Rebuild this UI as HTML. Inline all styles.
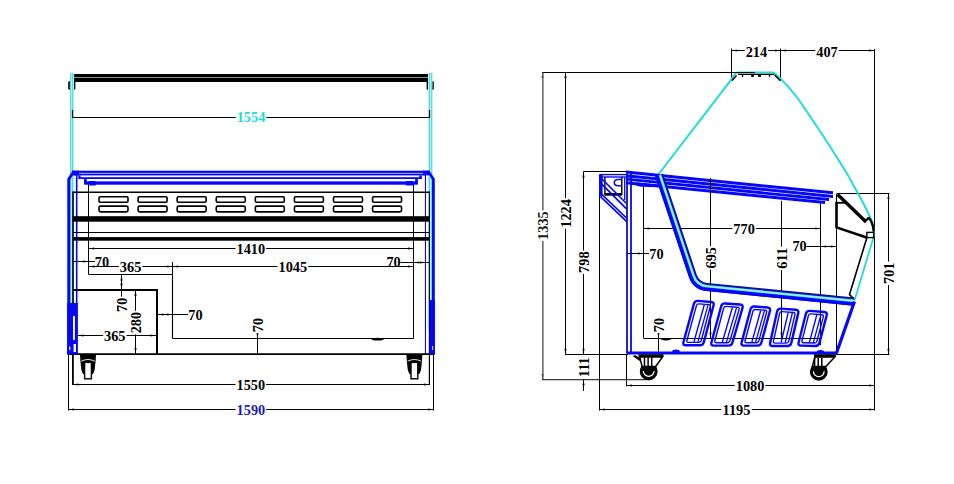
<!DOCTYPE html>
<html><head><meta charset="utf-8"><title>Cabinet drawing</title>
<style>
html,body{margin:0;padding:0;background:#fff;}
svg{display:block;}
text{font-family:"Liberation Serif",serif;}
</style></head>
<body>
<svg width="954" height="484" viewBox="0 0 954 484">
<rect x="0" y="0" width="954" height="484" fill="#fff"/>
<rect x="72" y="74" width="358" height="8" fill="#000" />
<line x1="73" y1="77.5" x2="429" y2="77.5" stroke="#9a9a9a" stroke-width="0.9" />
<rect x="68.2" y="81.2" width="7.2" height="8.6" rx="1.2" fill="#000"/>
<rect x="69.8" y="83.3" width="4.0" height="1.7" fill="#ddd" />
<rect x="69.8" y="86.3" width="4.0" height="1.7" fill="#ddd" />
<rect x="426.6" y="81.2" width="7.2" height="8.6" rx="1.2" fill="#000"/>
<rect x="428.20000000000005" y="83.3" width="4.0" height="1.7" fill="#ddd" />
<rect x="428.20000000000005" y="86.3" width="4.0" height="1.7" fill="#ddd" />
<rect x="69.9" y="73" width="4.2" height="230" fill="#b2f4f6" />
<rect x="70.1" y="73" width="1.0" height="230" fill="#58d2d6" />
<rect x="72.1" y="73" width="1.0" height="230" fill="#58d2d6" />
<rect x="428.0" y="73" width="4.4" height="257" fill="#b2f4f6" />
<rect x="429.0" y="73" width="1.0" height="257" fill="#58d2d6" />
<rect x="431.2" y="73" width="1.0" height="257" fill="#58d2d6" />
<line x1="72.5" y1="117.5" x2="430" y2="117.5" stroke="#000" stroke-width="1.0" />
<line x1="72.5" y1="110" x2="72.5" y2="118" stroke="#000" stroke-width="1.2" />
<line x1="429.5" y1="110" x2="429.5" y2="118" stroke="#000" stroke-width="1.2" />
<rect x="235.7" y="111.48100000000001" width="30.6" height="11.438" fill="#fff" />
<text x="251" y="122.32" fill="#22dcd8" font-size="14.3" font-weight="bold" text-anchor="middle">1554</text>
<rect x="72.2" y="170.7" width="357.5" height="2.2" fill="#0606f8" />
<rect x="73.9" y="173.6" width="351.9" height="1.8" fill="#0606f8" />
<rect x="72.2" y="170.7" width="6.8" height="4.7" fill="#0606f8" />
<rect x="423.0" y="170.7" width="6.7" height="4.7" fill="#0606f8" />
<rect x="75.9" y="175" width="1.6" height="179.2" fill="#0606f8" />
<rect x="424.9" y="175" width="1.1" height="179.2" fill="#1010a8" />
<rect x="78.4" y="175.4" width="2.1" height="3.5" fill="#0606f8" />
<rect x="419.3" y="175.4" width="2.5" height="3.5" fill="#0606f8" />
<rect x="78.4" y="177.2" width="343.4" height="1.8" fill="#0606f8" />
<rect x="84.0" y="178.9" width="2.8" height="4.9" fill="#0606f8" />
<rect x="415.1" y="178.9" width="2.7" height="4.9" fill="#0606f8" />
<rect x="84.3" y="181.4" width="333.5" height="3.3" fill="#0606f8" />
<rect x="88.3" y="181.0" width="7.9" height="4.6" rx="1.5" fill="#0606f8"/>
<rect x="405.4" y="181.0" width="8.5" height="4.6" rx="1.5" fill="#0606f8"/>
<path d="M72.6,170.8 L74.6,172.2 L70.2,179.8 L70.2,354.2 L67.3,354.2 L67.3,178.8 Z" fill="#0606f8"/>
<path d="M429.4,170.8 L427.8,172.4 L432.0,179.8 L432.0,354.2 L434.8,354.2 L434.8,178.8 Z" fill="#0606f8"/>
<line x1="73.0" y1="192.3" x2="429.3" y2="192.3" stroke="#000" stroke-width="1.5" />
<line x1="73.0" y1="191.5" x2="73.0" y2="385" stroke="#000" stroke-width="1.6" />
<line x1="429.4" y1="191.5" x2="429.4" y2="385" stroke="#000" stroke-width="1.2" />
<rect x="73" y="216.2" width="356.5" height="5.5" fill="#000" />
<line x1="73" y1="232.5" x2="429.3" y2="232.5" stroke="#000" stroke-width="1.0" />
<rect x="73" y="237.1" width="356.5" height="3.6" fill="#000" />
<line x1="88.5" y1="185" x2="88.5" y2="274.5" stroke="#000" stroke-width="1.0" />
<line x1="413.5" y1="185" x2="413.5" y2="338.5" stroke="#000" stroke-width="1.0" />
<line x1="88.8" y1="274.5" x2="172.5" y2="274.5" stroke="#000" stroke-width="1.0" />
<line x1="172.5" y1="262" x2="172.5" y2="338.5" stroke="#000" stroke-width="1.1" />
<line x1="172.5" y1="338.5" x2="413.6" y2="338.5" stroke="#000" stroke-width="1.1" />
<ellipse cx="377.6" cy="339.2" rx="6.2" ry="1.4" fill="#000"/>
<rect x="99.0" y="196.7" width="29.0" height="5.6" rx="1.2" ry="1.2" fill="none" stroke="#000" stroke-width="1.6"/>
<rect x="99.0" y="206.1" width="29.0" height="5.8" rx="1.6" ry="1.6" fill="none" stroke="#000" stroke-width="1.6"/>
<rect x="138.07999999999998" y="196.7" width="29.0" height="5.6" rx="1.2" ry="1.2" fill="none" stroke="#000" stroke-width="1.6"/>
<rect x="138.07999999999998" y="206.1" width="29.0" height="5.8" rx="1.6" ry="1.6" fill="none" stroke="#000" stroke-width="1.6"/>
<rect x="177.15999999999997" y="196.7" width="29.0" height="5.6" rx="1.2" ry="1.2" fill="none" stroke="#000" stroke-width="1.6"/>
<rect x="177.15999999999997" y="206.1" width="29.0" height="5.8" rx="1.6" ry="1.6" fill="none" stroke="#000" stroke-width="1.6"/>
<rect x="216.23999999999998" y="196.7" width="29.0" height="5.6" rx="1.2" ry="1.2" fill="none" stroke="#000" stroke-width="1.6"/>
<rect x="216.23999999999998" y="206.1" width="29.0" height="5.8" rx="1.6" ry="1.6" fill="none" stroke="#000" stroke-width="1.6"/>
<rect x="255.32" y="196.7" width="29.0" height="5.6" rx="1.2" ry="1.2" fill="none" stroke="#000" stroke-width="1.6"/>
<rect x="255.32" y="206.1" width="29.0" height="5.8" rx="1.6" ry="1.6" fill="none" stroke="#000" stroke-width="1.6"/>
<rect x="294.4" y="196.7" width="29.0" height="5.6" rx="1.2" ry="1.2" fill="none" stroke="#000" stroke-width="1.6"/>
<rect x="294.4" y="206.1" width="29.0" height="5.8" rx="1.6" ry="1.6" fill="none" stroke="#000" stroke-width="1.6"/>
<rect x="333.47999999999996" y="196.7" width="29.0" height="5.6" rx="1.2" ry="1.2" fill="none" stroke="#000" stroke-width="1.6"/>
<rect x="333.47999999999996" y="206.1" width="29.0" height="5.8" rx="1.6" ry="1.6" fill="none" stroke="#000" stroke-width="1.6"/>
<rect x="372.56" y="196.7" width="29.0" height="5.6" rx="1.2" ry="1.2" fill="none" stroke="#000" stroke-width="1.6"/>
<rect x="372.56" y="206.1" width="29.0" height="5.8" rx="1.6" ry="1.6" fill="none" stroke="#000" stroke-width="1.6"/>
<polyline points="73,290 157,290 157,354" stroke="#000" stroke-width="2.0" fill="none" />
<line x1="67.5" y1="354.2" x2="434.5" y2="354.2" stroke="#000" stroke-width="1.8" />
<rect x="67.2" y="303" width="10.6" height="51.2" fill="#0606f8" />
<rect x="73.0" y="316" width="1.9" height="24" fill="#fff" />
<rect x="73.6" y="344" width="2.4" height="8" fill="#fff" />
<rect x="69.0" y="346.5" width="1.5" height="3.5" fill="#ccd" />
<rect x="429.4" y="300" width="5.4" height="54.2" fill="#0606f8" />
<rect x="432.0" y="346" width="1.2" height="4" fill="#ccf" />
<path d="M80.0,354.6 L96.0,354.6 L95.6,361 L94.6,370 L93.0,374 L83.0,374 L81.4,370 L80.4,361 Z" fill="#000"/>
<path d="M81.2,361.2 Q88.0,357.8 94.8,361.2" fill="none" stroke="#fff" stroke-width="0.9"/>
<rect x="84.6" y="362.4" width="6.8" height="16.4" fill="#fff" stroke="#000" stroke-width="1.4"/>
<path d="M406.4,354.6 L422.4,354.6 L422.0,361 L421.0,370 L419.4,374 L409.4,374 L407.79999999999995,370 L406.79999999999995,361 Z" fill="#000"/>
<path d="M407.59999999999997,361.2 Q414.4,357.8 421.2,361.2" fill="none" stroke="#fff" stroke-width="0.9"/>
<rect x="411.0" y="362.4" width="6.8" height="16.4" fill="#fff" stroke="#000" stroke-width="1.4"/>
<line x1="88.8" y1="248.5" x2="413.6" y2="248.5" stroke="#000" stroke-width="1.0" />
<polygon points="88.80,248.50 94.30,247.40 94.30,249.60" fill="#000"/>
<polygon points="413.60,248.50 408.10,247.40 408.10,249.60" fill="#000"/>
<rect x="235.5" y="242.781" width="30.6" height="11.438" fill="#fff" />
<text x="250.8" y="253.62" fill="#000" font-size="14.3" font-weight="bold" text-anchor="middle">1410</text>
<line x1="73" y1="261.5" x2="95" y2="261.5" stroke="#000" stroke-width="1.0" />
<polygon points="88.80,261.50 83.30,260.40 83.30,262.60" fill="#000"/>
<text x="102" y="266.82" fill="#000" font-size="14.3" font-weight="bold" text-anchor="middle">70</text>
<line x1="88.8" y1="266.5" x2="172.5" y2="266.5" stroke="#000" stroke-width="1.0" />
<polygon points="88.80,266.50 94.30,265.40 94.30,267.60" fill="#000"/>
<polygon points="172.50,266.50 167.00,265.40 167.00,267.60" fill="#000"/>
<rect x="118.875" y="261.481" width="23.450000000000003" height="11.438" fill="#fff" />
<text x="130.6" y="272.32" fill="#000" font-size="14.3" font-weight="bold" text-anchor="middle">365</text>
<line x1="172.5" y1="266.5" x2="413.6" y2="266.5" stroke="#000" stroke-width="1.0" />
<polygon points="172.50,266.50 178.00,265.40 178.00,267.60" fill="#000"/>
<polygon points="413.60,266.50 408.10,265.40 408.10,267.60" fill="#000"/>
<rect x="277.5" y="261.281" width="30.6" height="11.438" fill="#fff" />
<text x="292.8" y="272.12" fill="#000" font-size="14.3" font-weight="bold" text-anchor="middle">1045</text>
<line x1="400.5" y1="262.5" x2="429.4" y2="262.5" stroke="#000" stroke-width="1.0" />
<polygon points="413.60,262.50 419.10,261.40 419.10,263.60" fill="#000"/>
<polygon points="425.40,262.50 419.90,261.40 419.90,263.60" fill="#000"/>
<text x="393.6" y="266.82" fill="#000" font-size="14.3" font-weight="bold" text-anchor="middle">70</text>
<line x1="121.5" y1="274.3" x2="121.5" y2="297" stroke="#000" stroke-width="1.0" />
<polygon points="121.50,289.00 120.40,283.50 122.60,283.50" fill="#000"/>
<polygon points="121.50,275.30 120.40,280.80 122.60,280.80" fill="#000"/>
<rect x="116.18100000000001" y="296.65000000000003" width="11.438" height="16.3" fill="#fff" />
<g transform="translate(121.9,304.8) rotate(-90)"><text x="0" y="5.12" fill="#000" font-size="14.3" font-weight="bold" text-anchor="middle">70</text></g>
<line x1="135.5" y1="290.5" x2="135.5" y2="354" stroke="#000" stroke-width="1.0" />
<polygon points="135.50,290.50 134.40,296.00 136.60,296.00" fill="#000"/>
<polygon points="135.50,353.50 134.40,348.00 136.60,348.00" fill="#000"/>
<rect x="130.281" y="310.875" width="11.438" height="23.450000000000003" fill="#fff" />
<g transform="translate(136.0,322.6) rotate(-90)"><text x="0" y="5.12" fill="#000" font-size="14.3" font-weight="bold" text-anchor="middle">280</text></g>
<line x1="77.8" y1="335.5" x2="157" y2="335.5" stroke="#000" stroke-width="1.0" />
<polygon points="78.00,335.50 83.50,334.40 83.50,336.60" fill="#000"/>
<polygon points="156.00,335.50 150.50,334.40 150.50,336.60" fill="#000"/>
<rect x="103.07499999999999" y="329.781" width="23.450000000000003" height="11.438" fill="#fff" />
<text x="114.8" y="340.62" fill="#000" font-size="14.3" font-weight="bold" text-anchor="middle">365</text>
<line x1="157" y1="314.5" x2="188" y2="314.5" stroke="#000" stroke-width="1.0" />
<polygon points="172.50,314.50 167.00,313.40 167.00,315.60" fill="#000"/>
<polygon points="158.00,314.50 163.50,313.40 163.50,315.60" fill="#000"/>
<text x="195.5" y="320.22" fill="#000" font-size="14.3" font-weight="bold" text-anchor="middle">70</text>
<line x1="257.5" y1="333" x2="257.5" y2="354" stroke="#000" stroke-width="1.0" />
<polygon points="257.50,338.30 256.40,332.80 258.60,332.80" fill="#000"/>
<rect x="251.981" y="316.85" width="11.438" height="16.3" fill="#fff" />
<g transform="translate(257.7,325.0) rotate(-90)"><text x="0" y="5.12" fill="#000" font-size="14.3" font-weight="bold" text-anchor="middle">70</text></g>
<line x1="72.5" y1="354" x2="72.5" y2="385" stroke="#000" stroke-width="1.0" />
<line x1="72.9" y1="384.5" x2="429.4" y2="384.5" stroke="#000" stroke-width="1.0" />
<polygon points="72.90,384.50 78.40,383.40 78.40,385.60" fill="#000"/>
<polygon points="429.40,384.50 423.90,383.40 423.90,385.60" fill="#000"/>
<rect x="235.5" y="379.081" width="30.6" height="11.438" fill="#fff" />
<text x="250.8" y="389.92" fill="#000" font-size="14.3" font-weight="bold" text-anchor="middle">1550</text>
<line x1="68.5" y1="354" x2="68.5" y2="410.5" stroke="#000" stroke-width="1.0" />
<line x1="433.5" y1="354" x2="433.5" y2="410.5" stroke="#000" stroke-width="1.0" />
<line x1="68.5" y1="409.5" x2="433.6" y2="409.5" stroke="#000" stroke-width="1.0" />
<polygon points="68.50,409.50 74.00,408.40 74.00,410.60" fill="#000"/>
<polygon points="433.60,409.50 428.10,408.40 428.10,410.60" fill="#000"/>
<rect x="235.6" y="403.88100000000003" width="30.6" height="11.438" fill="#fff" />
<text x="250.9" y="414.72" fill="#1a1ab4" font-size="14.3" font-weight="bold" text-anchor="middle">1590</text>
<line x1="731.5" y1="50.5" x2="874.6" y2="50.5" stroke="#000" stroke-width="1.0" />
<line x1="731.5" y1="48.5" x2="731.5" y2="80" stroke="#000" stroke-width="1.0" />
<line x1="780.5" y1="48.5" x2="780.5" y2="80.6" stroke="#000" stroke-width="1.0" />
<line x1="874.5" y1="49" x2="874.5" y2="410.5" stroke="#000" stroke-width="1.0" />
<polygon points="731.50,50.50 737.00,49.40 737.00,51.60" fill="#000"/>
<polygon points="780.50,50.50 775.00,49.40 775.00,51.60" fill="#000"/>
<polygon points="780.50,50.50 786.00,49.40 786.00,51.60" fill="#000"/>
<polygon points="874.60,50.50 869.10,49.40 869.10,51.60" fill="#000"/>
<rect x="744.675" y="45.881" width="23.450000000000003" height="11.438" fill="#fff" />
<text x="756.4" y="56.72" fill="#000" font-size="14.3" font-weight="bold" text-anchor="middle">214</text>
<rect x="815.275" y="45.881" width="23.450000000000003" height="11.438" fill="#fff" />
<text x="827.0" y="56.72" fill="#000" font-size="14.3" font-weight="bold" text-anchor="middle">407</text>
<line x1="542.0" y1="72.5" x2="755" y2="72.5" stroke="#000" stroke-width="1.0" />
<line x1="542.9" y1="72.4" x2="542.9" y2="379.6" stroke="#3a3a3a" stroke-width="1.2" />
<polygon points="542.50,72.60 541.40,78.10 543.60,78.10" fill="#555"/>
<polygon points="542.50,379.40 541.40,373.90 543.60,373.90" fill="#555"/>
<rect x="537.5809999999999" y="210.29999999999998" width="11.438" height="30.6" fill="#fff" />
<g transform="translate(543.3,225.6) rotate(-90)"><text x="0" y="5.12" fill="#1a1a1a" font-size="14.3" font-weight="bold" text-anchor="middle">1335</text></g>
<line x1="565.5" y1="72.4" x2="565.5" y2="354.4" stroke="#000" stroke-width="1.0" />
<polygon points="565.50,72.60 564.40,78.10 566.60,78.10" fill="#000"/>
<polygon points="565.50,354.20 564.40,348.70 566.60,348.70" fill="#000"/>
<rect x="559.881" y="198.1" width="11.438" height="30.6" fill="#fff" />
<g transform="translate(565.6,213.4) rotate(-90)"><text x="0" y="5.12" fill="#000" font-size="14.3" font-weight="bold" text-anchor="middle">1224</text></g>
<line x1="583.3" y1="171.5" x2="626.5" y2="171.5" stroke="#000" stroke-width="1.0" />
<line x1="583.5" y1="171.9" x2="583.5" y2="354.4" stroke="#000" stroke-width="1.0" />
<polygon points="583.50,172.10 582.40,177.60 584.60,177.60" fill="#000"/>
<polygon points="583.50,354.20 582.40,348.70 584.60,348.70" fill="#000"/>
<rect x="577.881" y="250.475" width="11.438" height="23.450000000000003" fill="#fff" />
<g transform="translate(583.6,262.2) rotate(-90)"><text x="0" y="5.12" fill="#000" font-size="14.3" font-weight="bold" text-anchor="middle">798</text></g>
<line x1="583.5" y1="379.6" x2="583.5" y2="391" stroke="#000" stroke-width="1.0" />
<polygon points="583.50,379.80 582.40,385.30 584.60,385.30" fill="#000"/>
<rect x="577.881" y="355.47499999999997" width="11.438" height="23.450000000000003" fill="#fff" />
<g transform="translate(583.6,367.2) rotate(-90)"><text x="0" y="5.12" fill="#000" font-size="14.3" font-weight="bold" text-anchor="middle">111</text></g>
<line x1="565" y1="354.5" x2="628" y2="354.5" stroke="#000" stroke-width="1.0" />
<line x1="542.0" y1="379.6" x2="650" y2="379.6" stroke="#3a3a3a" stroke-width="1.2" />
<line x1="599.5" y1="196" x2="599.5" y2="410.5" stroke="#000" stroke-width="1.0" />
<line x1="626.5" y1="354" x2="626.5" y2="386.5" stroke="#000" stroke-width="1.0" />
<line x1="626.5" y1="385.5" x2="874.6" y2="385.5" stroke="#000" stroke-width="1.0" />
<polygon points="626.50,385.50 632.00,384.40 632.00,386.60" fill="#000"/>
<polygon points="874.60,385.50 869.10,384.40 869.10,386.60" fill="#000"/>
<rect x="734.8000000000001" y="380.281" width="30.6" height="11.438" fill="#fff" />
<text x="750.1" y="391.12" fill="#000" font-size="14.3" font-weight="bold" text-anchor="middle">1080</text>
<line x1="599.4" y1="409.5" x2="874.6" y2="409.5" stroke="#000" stroke-width="1.0" />
<polygon points="599.40,409.50 604.90,408.40 604.90,410.60" fill="#000"/>
<polygon points="874.60,409.50 869.10,408.40 869.10,410.60" fill="#000"/>
<rect x="721.2" y="404.281" width="30.6" height="11.438" fill="#fff" />
<text x="736.5" y="415.12" fill="#000" font-size="14.3" font-weight="bold" text-anchor="middle">1195</text>
<line x1="837" y1="193.5" x2="889.5" y2="193.5" stroke="#000" stroke-width="1.0" />
<line x1="836" y1="354.5" x2="889.5" y2="354.5" stroke="#000" stroke-width="1.0" />
<line x1="888.5" y1="193.4" x2="888.5" y2="354.4" stroke="#000" stroke-width="1.0" />
<polygon points="888.50,193.60 887.40,199.10 889.60,199.10" fill="#000"/>
<polygon points="888.50,354.20 887.40,348.70 889.60,348.70" fill="#000"/>
<rect x="883.0809999999999" y="261.575" width="11.438" height="23.450000000000003" fill="#fff" />
<g transform="translate(888.8,273.3) rotate(-90)"><text x="0" y="5.12" fill="#000" font-size="14.3" font-weight="bold" text-anchor="middle">701</text></g>
<line x1="643.5" y1="185" x2="643.5" y2="338.3" stroke="#000" stroke-width="1.0" />
<line x1="643.6" y1="338.5" x2="820.6" y2="338.5" stroke="#000" stroke-width="1.0" />
<line x1="820.5" y1="203" x2="820.5" y2="345" stroke="#000" stroke-width="1.0" />
<line x1="836.5" y1="228" x2="836.5" y2="354" stroke="#000" stroke-width="1.0" />
<line x1="643.6" y1="228.5" x2="820.6" y2="228.5" stroke="#000" stroke-width="1.0" />
<polygon points="643.60,228.50 649.10,227.40 649.10,229.60" fill="#000"/>
<polygon points="820.60,228.50 815.10,227.40 815.10,229.60" fill="#000"/>
<rect x="732.375" y="222.881" width="23.450000000000003" height="11.438" fill="#fff" />
<text x="744.1" y="233.72" fill="#000" font-size="14.3" font-weight="bold" text-anchor="middle">770</text>
<line x1="710.5" y1="178" x2="710.5" y2="338.3" stroke="#000" stroke-width="1.0" />
<polygon points="710.50,338.10 709.40,332.60 711.60,332.60" fill="#000"/>
<rect x="704.781" y="246.07500000000002" width="11.438" height="23.450000000000003" fill="#fff" />
<g transform="translate(710.5,257.8) rotate(-90)"><text x="0" y="5.12" fill="#000" font-size="14.3" font-weight="bold" text-anchor="middle">695</text></g>
<line x1="781.5" y1="200.8" x2="781.5" y2="338.3" stroke="#000" stroke-width="1.0" />
<polygon points="781.50,338.10 780.40,332.60 782.60,332.60" fill="#000"/>
<rect x="775.781" y="246.57500000000002" width="11.438" height="23.450000000000003" fill="#fff" />
<g transform="translate(781.5,258.3) rotate(-90)"><text x="0" y="5.12" fill="#000" font-size="14.3" font-weight="bold" text-anchor="middle">611</text></g>
<line x1="806.5" y1="246.5" x2="836.5" y2="246.5" stroke="#000" stroke-width="1.0" />
<polygon points="820.60,246.50 826.10,245.40 826.10,247.60" fill="#000"/>
<polygon points="836.50,246.50 831.00,245.40 831.00,247.60" fill="#000"/>
<text x="799.6" y="251.32" fill="#000" font-size="14.3" font-weight="bold" text-anchor="middle">70</text>
<line x1="627" y1="253.5" x2="649" y2="253.5" stroke="#000" stroke-width="1.0" />
<polygon points="643.60,253.50 638.10,252.40 638.10,254.60" fill="#000"/>
<text x="656.5" y="258.92" fill="#000" font-size="14.3" font-weight="bold" text-anchor="middle">70</text>
<line x1="658.5" y1="333" x2="658.5" y2="354" stroke="#000" stroke-width="1.0" />
<polygon points="658.50,338.10 657.40,332.60 659.60,332.60" fill="#000"/>
<rect x="652.881" y="316.85" width="11.438" height="16.3" fill="#fff" />
<g transform="translate(658.6,325.0) rotate(-90)"><text x="0" y="5.12" fill="#000" font-size="14.3" font-weight="bold" text-anchor="middle">70</text></g>
<path d="M661,338.6 Q666,341 671,338.6" stroke="#000" stroke-width="1.6" fill="none"/>
<path d="M657.2,176 L731.6,79.2 Q733.5,74.2 737.5,72.6 L773.4,72.6 C774.00,73.07 775.77,74.33 777.0,75.4 C778.23,76.47 778.70,76.83 780.8,79.0 C782.90,81.17 786.58,84.90 789.6,88.4 C792.62,91.90 795.98,96.07 798.9,100.0 C801.82,103.93 803.72,107.00 807.1,112.0 C810.48,117.00 815.87,125.00 819.2,130.0 C822.53,135.00 823.87,137.00 827.1,142.0 C830.33,147.00 835.25,154.67 838.6,160.0 C841.95,165.33 844.47,169.33 847.2,174.0 C849.93,178.67 852.60,183.67 855.0,188.0 C857.40,192.33 859.25,195.50 861.6,200.0 C863.95,204.50 867.23,211.00 869.1,215.0 C870.97,219.00 871.98,221.17 872.8,224.0 C873.62,226.83 873.83,229.83 874.0,232.0 C874.17,234.17 873.83,236.17 873.8,237.0 " stroke="#22dcd8" stroke-width="2.0" fill="none" />
<path d="M873.6,237 L854.5,300.6" stroke="#22dcd8" stroke-width="1.8" fill="none" />
<line x1="735" y1="72.5" x2="755" y2="72.5" stroke="#000" stroke-width="1.0" />
<line x1="738" y1="74.4" x2="774" y2="74.4" stroke="#000" stroke-width="1.4" />
<rect x="741.8" y="74.4" width="1.4" height="2.6" fill="#000" />
<rect x="751.2" y="74.4" width="2.6" height="2.6" fill="#000" />
<rect x="758.0" y="74.4" width="3.0" height="2.4" fill="#000" />
<rect x="768.8" y="74.4" width="1.4" height="2.4" fill="#000" />
<path d="M732,80.6 L736.5,75.6" stroke="#000" stroke-width="1.5" fill="none" />
<path d="M780.4,80.6 L774.6,75.0" stroke="#000" stroke-width="1.5" fill="none" />
<line x1="600" y1="174.6" x2="626.5" y2="174.6" stroke="#1010a8" stroke-width="1.4" />
<line x1="600" y1="177.0" x2="626.5" y2="177.0" stroke="#0606f8" stroke-width="1.4" />
<rect x="599.0" y="174.2" width="3.6" height="22.3" fill="#0606f8" />
<path d="M604.9,177 L604.9,194.6 L621.8,194.6 L621.8,177" fill="none" stroke="#000" stroke-width="1.4"/>
<line x1="604.9" y1="194.3" x2="621.8" y2="194.3" stroke="#000" stroke-width="2.6" />
<path d="M601.5,178.5 L626.5,203.5" stroke="#0606f8" stroke-width="1.7" fill="none" />
<path d="M601.5,183.8 L626.5,208.8" stroke="#0606f8" stroke-width="1.7" fill="none" />
<path d="M600.5,193.2 L626.5,218.0" stroke="#0606f8" stroke-width="1.7" fill="none" />
<path d="M600.5,196.6 L626.5,221.4" stroke="#0606f8" stroke-width="1.7" fill="none" />
<path d="M622,179.4 L618,179.4 Q614.3,179.4 614.3,182.6 Q614.3,185.8 618,185.8 L622,185.8" fill="none" stroke="#0606f8" stroke-width="1.5"/>
<line x1="624.7" y1="177.5" x2="624.7" y2="200" stroke="#0606f8" stroke-width="1.3" />
<line x1="627.0" y1="171" x2="627.0" y2="353.5" stroke="#1010a8" stroke-width="1.8" />
<line x1="631.0" y1="171" x2="631.0" y2="353.5" stroke="#0606f8" stroke-width="1.8" />
<polygon points="626,170.6 833,191.3 833,194.3 626,173.6" fill="#0606f8"/>
<polygon points="626,174.2 833,194.89999999999998 833,197.89999999999998 626,177.2" fill="#0606f8"/>
<polygon points="626,177.79999999999998 829,198.1 829,200.9 626,180.6" fill="#0606f8"/>
<polygon points="626,181.2 825,201.1 825,204.1 626,184.2" fill="#0606f8"/>
<polygon points="636,182.4 661,184.8 661,187.2 641,186.8 636,185.4" fill="#0606f8"/>
<line x1="710.5" y1="178.5" x2="710.5" y2="200" stroke="#000" stroke-width="1.0" />
<path d="M659.22,175.00 L692.72,275.46 Q696.20,285.90 707.15,286.98 L854.00,301.56" stroke="#1010a8" stroke-width="8.2" fill="none" />
<path d="M656.95,175.76 L690.45,276.22 Q694.41,288.13 706.91,289.37 L853.76,303.94" stroke="#0606f8" stroke-width="3.5" fill="none" />
<path d="M659.89,174.78 L693.39,275.24 Q696.72,285.25 707.22,286.29 L854.07,300.86" stroke="#5fe8f5" stroke-width="2.6" fill="none" />
<path d="M659.89,174.78 L693.39,275.24 Q696.72,285.25 707.22,286.29 L854.07,300.86" stroke="#b8f8ff" stroke-width="0.8" fill="none" />
<line x1="627" y1="353.0" x2="836.5" y2="353.0" stroke="#0606f8" stroke-width="3.0" />
<line x1="836.3" y1="353.5" x2="854.5" y2="301.5" stroke="#0606f8" stroke-width="3.2" />
<ellipse cx="820.5" cy="351.5" rx="3.5" ry="1.6" fill="#0606f8"/>
<ellipse cx="676" cy="351.2" rx="3.8" ry="1.8" fill="#0606f8"/>
<path d="M697.99,300.86 L711.21,301.94 Q714.40,302.20 713.58,305.29 L703.82,342.21 Q703.00,345.30 699.80,345.30 L685.80,345.30 Q682.60,345.30 683.44,342.21 L693.96,303.69 Q694.80,300.60 697.99,300.86 Z" stroke="#0606f8" stroke-width="2.4" fill="none" />
<path d="M698.96,303.85 L708.72,304.65 Q710.71,304.81 710.20,306.74 L701.28,340.47 Q700.77,342.40 698.77,342.40 L688.40,342.40 Q686.40,342.40 686.92,340.47 L696.44,305.62 Q696.96,303.69 698.96,303.85 Z" stroke="#0606f8" stroke-width="1.4" fill="none" />
<line x1="704.25" y1="304.88" x2="694.01" y2="341.8" stroke="#0606f8" stroke-width="1.4" />
<line x1="707.96" y1="305.18" x2="697.89" y2="341.8" stroke="#0606f8" stroke-width="1.3" />
<path d="M725.19,303.44 L740.21,304.56 Q743.40,304.80 742.51,307.87 L732.49,342.53 Q731.60,345.60 728.40,345.60 L713.80,345.60 Q710.60,345.60 711.43,342.51 L721.17,306.29 Q722.00,303.20 725.19,303.44 Z" stroke="#0606f8" stroke-width="2.4" fill="none" />
<path d="M726.17,306.42 L737.63,307.28 Q739.62,307.43 739.07,309.35 L729.98,340.78 Q729.42,342.70 727.42,342.70 L716.38,342.70 Q714.38,342.70 714.90,340.77 L723.66,308.20 Q724.18,306.27 726.17,306.42 Z" stroke="#0606f8" stroke-width="1.4" fill="none" />
<line x1="732.36" y1="307.48" x2="722.35" y2="342.1" stroke="#0606f8" stroke-width="1.4" />
<line x1="736.53" y1="307.79" x2="726.41" y2="342.1" stroke="#0606f8" stroke-width="1.3" />
<path d="M754.49,306.46 L767.61,307.54 Q770.80,307.80 769.97,310.89 L761.43,342.51 Q760.60,345.60 757.40,345.60 L744.00,345.60 Q740.80,345.60 741.62,342.51 L750.48,309.29 Q751.30,306.20 754.49,306.46 Z" stroke="#0606f8" stroke-width="2.4" fill="none" />
<path d="M755.47,309.45 L765.10,310.24 Q767.09,310.41 766.57,312.34 L758.90,340.77 Q758.38,342.70 756.38,342.70 L746.57,342.70 Q744.57,342.70 745.09,340.77 L752.96,311.22 Q753.48,309.29 755.47,309.45 Z" stroke="#0606f8" stroke-width="1.4" fill="none" />
<line x1="760.69" y1="310.48" x2="751.89" y2="342.1" stroke="#0606f8" stroke-width="1.4" />
<line x1="764.37" y1="310.78" x2="755.62" y2="342.1" stroke="#0606f8" stroke-width="1.3" />
<path d="M780.99,308.64 L795.81,309.76 Q799.00,310.00 798.27,313.12 L791.33,342.88 Q790.60,346.00 787.40,346.00 L772.60,346.00 Q769.40,346.00 770.10,342.88 L777.10,311.52 Q777.80,308.40 780.99,308.64 Z" stroke="#0606f8" stroke-width="2.4" fill="none" />
<path d="M782.08,311.63 L793.41,312.49 Q795.41,312.64 794.95,314.58 L788.75,341.15 Q788.30,343.10 786.30,343.10 L775.02,343.10 Q773.02,343.10 773.46,341.15 L779.65,313.43 Q780.08,311.48 782.08,311.63 Z" stroke="#0606f8" stroke-width="1.4" fill="none" />
<line x1="788.2" y1="312.69" x2="781.12" y2="342.5" stroke="#0606f8" stroke-width="1.4" />
<line x1="792.34" y1="313.01" x2="785.24" y2="342.5" stroke="#0606f8" stroke-width="1.3" />
<path d="M809.89,310.86 L824.31,312.04 Q827.50,312.30 826.68,315.39 L819.42,342.91 Q818.60,346.00 815.40,345.94 L801.00,345.66 Q797.80,345.60 798.59,342.50 L805.91,313.70 Q806.70,310.60 809.89,310.86 Z" stroke="#0606f8" stroke-width="2.4" fill="none" />
<path d="M810.90,313.85 L821.82,314.75 Q823.81,314.91 823.30,316.84 L816.89,341.12 Q816.38,343.06 814.38,343.02 L803.51,342.81 Q801.51,342.77 802.00,340.83 L808.41,315.63 Q808.91,313.69 810.90,313.85 Z" stroke="#0606f8" stroke-width="1.4" fill="none" />
<line x1="816.81" y1="314.94" x2="809.39" y2="342.32" stroke="#0606f8" stroke-width="1.4" />
<line x1="820.83" y1="315.26" x2="813.4" y2="342.4" stroke="#0606f8" stroke-width="1.3" />
<line x1="836.5" y1="193.5" x2="836.5" y2="203" stroke="#000" stroke-width="1.2" />
<polyline points="836.5,202.0 836.5,227.4 866.6,237.4" stroke="#000" stroke-width="2.6" fill="none" />
<line x1="837.6" y1="194.6" x2="865.6" y2="221.4" stroke="#000" stroke-width="3.4" />
<line x1="836.5" y1="202.8" x2="846" y2="202.8" stroke="#000" stroke-width="1.8" />
<path d="M864.2,222.6 L868.8,217.6" stroke="#000" stroke-width="2.2" fill="none" />
<path d="M868.4,217.6 Q872.6,221 873.8,231.5" stroke="#000" stroke-width="2.4" fill="none" />
<rect x="866.9" y="232.4" width="6.9" height="5.2" fill="none" stroke="#000" stroke-width="1.4"/>
<polyline points="866.8,238 849.5,294.6 853.5,298.6" stroke="#000" stroke-width="1.6" fill="none" />
<circle cx="648.7" cy="371.4" r="8.9" fill="#000"/>
<path d="M643.3000000000001,370.9 A5.4,5.4 0 0 0 654.1,370.9" stroke="#fff" stroke-width="1.2" fill="none"/>
<path d="M639.5,357 L662.5,357 L655.7,366.5 L642.2,366.5 Z" fill="#fff" stroke="#000" stroke-width="1.5"/>
<line x1="644.5" y1="357.5" x2="644.5" y2="367.5" stroke="#000" stroke-width="1.5" />
<line x1="648.1" y1="357.5" x2="648.1" y2="367.5" stroke="#000" stroke-width="1.5" />
<line x1="651.7" y1="357.5" x2="651.7" y2="367.5" stroke="#000" stroke-width="1.5" />
<rect x="638.5" y="354.3" width="25.0" height="2.5" fill="#000" />
<path d="M632.5,356.0 L635.5,355.2 L641.5,359.2 L640.2,361.2 Z" fill="#000"/>
<circle cx="818.8" cy="371.8" r="8.9" fill="#000"/>
<path d="M813.4,371.3 A5.4,5.4 0 0 0 824.1999999999999,371.3" stroke="#fff" stroke-width="1.2" fill="none"/>
<path d="M815.0,357 L834.8,357 L825.8,366.5 L812.3,366.5 Z" fill="#fff" stroke="#000" stroke-width="1.5"/>
<line x1="814.5999999999999" y1="357.5" x2="814.5999999999999" y2="367.5" stroke="#000" stroke-width="1.5" />
<line x1="818.1999999999999" y1="357.5" x2="818.1999999999999" y2="367.5" stroke="#000" stroke-width="1.5" />
<line x1="821.8" y1="357.5" x2="821.8" y2="367.5" stroke="#000" stroke-width="1.5" />
<rect x="814.0" y="354.3" width="21.799999999999955" height="2.5" fill="#000" />
</svg>
</body></html>
